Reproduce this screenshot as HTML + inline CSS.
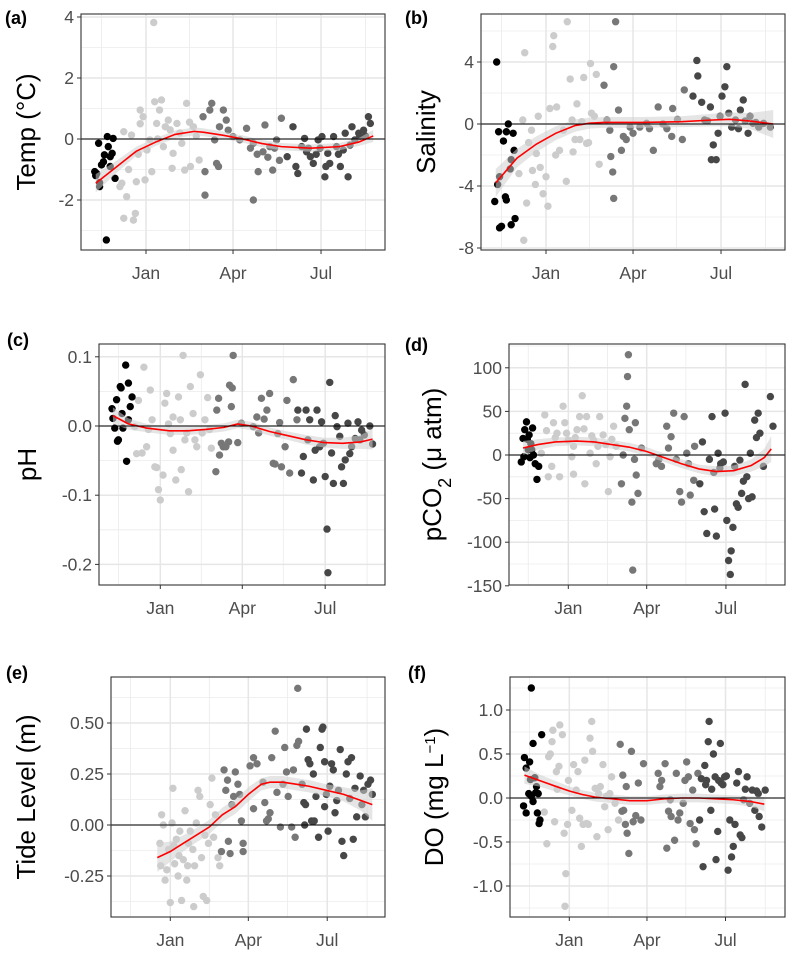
<!DOCTYPE html>
<html><head><meta charset="utf-8"><style>
html,body{margin:0;padding:0;background:#fff;}
svg text{font-family:"Liberation Sans",Arial,sans-serif;}
</style></head><body>
<svg id="chart" width="793" height="958" viewBox="0 0 793 958" xmlns="http://www.w3.org/2000/svg"></svg>
<script>
// ---- Data: [day since Jan 1, value] per colour group ----
const aBlack=[[-53,-1.07],[-49,-0.14],[-48,-1.43],[-51,-1.13],[-46,-0.85],[-43,-0.52],[-41,-3.31],[-40,0.08],[-39,-0.25],[-37,-0.9],[-35,-0.47],[-34,0.02],[-32,-1.29],[-37,-0.58],[-48,-1.56],[-52,-1.2],[-44,-0.75]];
const aLight=[[8,3.82],[-23,0.24],[-25,-1.45],[-23,-2.6],[-20,-1.89],[-13,-2.66],[-11,-2.44],[-15,0.13],[-10,-1.4],[-6,0.95],[-3,0.73],[-1,-1.34],[1,-0.36],[6,-1.07],[9,1.22],[11,0.51],[16,1.28],[18,-0.25],[20,0.4],[23,0.62],[27,-0.96],[28,-0.47],[32,0.51],[37,-0.14],[40,-1.02],[42,1.17],[46,-0.9],[49,0.4],[55,-0.69],[-6,0.5],[-27,-1.56],[14,0.95],[4,-0.03],[-18,-1.0],[-8,-0.5],[25,0.3],[35,0.2],[45,0.55],[52,0.1],[12,0.0]];
const aMid=[[59,0.73],[61,-1.07],[61,-1.84],[66,0.95],[68,1.17],[71,-0.03],[73,-0.8],[76,0.4],[80,0.95],[83,0.62],[85,0.29],[75,-0.9],[104,0.35],[111,-2.0],[116,-1.07],[123,0.46],[128,-0.25],[131,-1.02],[135,-0.03],[140,0.68],[111,-0.14],[121,-0.42],[90,0.08],[97,-0.03],[108,-0.3],[115,-0.5],[126,-0.6],[133,-0.3],[138,-0.7]];
const aDark=[[146,-0.58],[152,0.4],[157,-1.13],[161,-0.25],[164,0.02],[170,-0.58],[173,-0.8],[178,-0.03],[182,0.08],[185,-1.24],[190,-0.8],[194,0.08],[197,-0.25],[201,-0.9],[206,0.19],[209,-1.24],[213,0.4],[216,-0.03],[220,0.19],[225,0.29],[230,0.73],[232,0.51],[166,-0.42],[188,-0.47],[204,-0.36],[221,0.08],[155,-0.9],[168,-0.3],[176,-0.5],[180,-0.3],[186,-0.9],[199,-0.5],[211,-0.2],[227,0.1]];
const aFitDay=[-52,-30,-10,10,30,50,60,80,100,120,140,170,200,220,235];
const aFitVal=[-1.45,-0.9,-0.4,-0.1,0.15,0.25,0.22,0.12,0.0,-0.15,-0.25,-0.3,-0.25,-0.1,0.1];
const aFitSe=[0.3,0.2,0.15,0.13,0.13,0.13,0.13,0.12,0.12,0.12,0.12,0.12,0.12,0.13,0.2];

const bBlack=[[-51,4.0],[-49,-0.5],[-53,-5.0],[-50,-3.9],[-48,-6.7],[-44,-1.1],[-46,-6.6],[-41,-4.9],[-41,-0.5],[-39,0],[-37,-2.9],[-36,-2.3],[-34,-0.6],[-32,-6.1],[-36,-6.5],[-33,-1.7],[-48,-3.4],[-42,-4.7]];
const bLight=[[-23,-7.5],[-22,4.6],[-24,0.26],[-28,-3.2],[-20,-5.1],[-18,-1.2],[-15,-0.4],[-11,-3.9],[-8,0.5],[-6,-2.8],[-3,-4.5],[2,-5.3],[4,1.0],[7,5.0],[8,5.7],[11,1.1],[14,-1.7],[21,-3.7],[22,6.6],[25,2.9],[27,0.26],[28,-1.8],[32,1.3],[35,-1.0],[39,3.0],[42,-1.25],[46,3.9],[47,0.7],[52,3.2],[55,-2.6],[18,-0.4],[-10,-1.9],[37,0.15],[-14,-3.0],[0,-3.4],[10,-2.0],[30,-1.0],[44,-1.2],[50,0.5]];
const bMid=[[60,2.5],[63,0.26],[67,-2.1],[69,-3.1],[70,3.7],[70,-4.8],[72,6.6],[75,0.9],[78,-1.7],[83,-1.0],[87,-0.2],[97,-0.2],[111,-1.7],[116,1.1],[121,0],[130,-0.8],[131,1.0],[141,-1.0],[143,2.2],[90,-0.6],[104,0.04],[66,-0.4],[80,-0.8],[107,-0.3],[125,-0.3],[136,0.3]];
const bDark=[[152,1.8],[156,4.1],[157,3.1],[161,1.4],[164,0.26],[170,1.1],[173,-1.35],[171,-2.3],[176,-2.3],[178,-0.6],[182,1.8],[185,2.4],[187,3.7],[189,0.7],[192,-0.2],[196,0.26],[201,0.9],[204,1.55],[209,-0.6],[214,0.04],[220,-0.2],[225,0.04],[232,-0.2],[180,0.5],[211,0.5],[167,0.2],[199,-0.3],[206,0.2],[217,0.1]];
const bFitDay=[-52,-30,-10,10,30,45,60,100,140,170,190,210,235];
const bFitVal=[-3.8,-2.2,-1.3,-0.6,-0.1,0.05,0.1,0.1,0.15,0.25,0.3,0.2,0.0];
const bFitSe=[0.9,0.6,0.5,0.45,0.4,0.35,0.35,0.35,0.35,0.4,0.45,0.5,0.9];

const cBlack=[[-53,0.025],[-52,0.011],[-50,-0.003],[-48,0.038],[-46,-0.02],[-44,0.057],[-42,0.018],[-41,-0.003],[-38,0.088],[-37,-0.051],[-35,0.062],[-33,0.028],[-31,0.042],[-35,0.009],[-43,0.055],[-47,-0.022]];
const cLight=[[-28,-0.001],[-24,0.037],[-20,-0.039],[-18,0.085],[-15,-0.03],[-11,0.052],[-9,0.009],[-6,-0.059],[-2,-0.092],[0,-0.107],[3,-0.071],[5,0.033],[7,0.047],[11,-0.011],[14,-0.035],[17,-0.078],[20,0.042],[22,0.009],[25,0.102],[27,-0.02],[31,-0.095],[33,0.057],[36,0.018],[40,-0.03],[44,0.074],[49,0.009],[52,0.041],[56,-0.032],[23,-0.063],[14,0.013],[-26,-0.04],[-13,-0.005],[-4,-0.06],[9,0.003],[29,-0.01],[38,-0.02],[46,-0.01],[54,-0.005]];
const cMid=[[61,-0.066],[62,0.023],[64,0.04],[65,-0.042],[69,-0.03],[75,-0.023],[76,0.059],[80,0.102],[78,0.028],[85,-0.024],[89,0.004],[102,-0.001],[106,0.013],[111,0.04],[117,0.023],[120,0.047],[124,-0.054],[129,-0.011],[133,-0.059],[137,-0.03],[139,0.037],[142,-0.068],[146,0.067],[150,0.009],[67,-0.025],[72,-0.03],[79,0.055],[108,-0.01],[114,0.01],[126,-0.055],[131,0.005]];
const cDark=[[151,0.023],[155,-0.068],[157,-0.044],[160,0.023],[164,0.009],[168,-0.078],[172,0.023],[175,-0.03],[177,0.006],[181,-0.073],[183,-0.149],[184,-0.212],[186,0.063],[188,-0.039],[190,-0.083],[194,-0.001],[197,-0.015],[199,-0.059],[203,-0.049],[206,0.004],[210,-0.03],[214,-0.018],[217,0.006],[221,-0.006],[224,-0.013],[230,0],[233,-0.026],[201,-0.083],[162,-0.02],[170,-0.035],[179,-0.025],[192,0.015],[208,-0.04],[219,-0.02]];
const cFitDay=[-52,-35,-15,10,30,50,70,85,100,120,140,160,180,200,220,233];
const cFitVal=[0.015,0.003,-0.003,-0.007,-0.007,-0.005,-0.002,0.003,0.0,-0.008,-0.014,-0.02,-0.024,-0.025,-0.023,-0.019];
const cFitSe=[0.012,0.008,0.006,0.006,0.006,0.006,0.006,0.006,0.006,0.006,0.006,0.007,0.007,0.008,0.01,0.015];

const dBlack=[[-54,-8],[-52,19],[-50,29],[-48,38],[-46,6],[-45,23],[-43,13],[-41,31],[-40,0],[-38,-10],[-36,-28],[-34,-13],[-42,6],[-51,-2],[-47,18],[-44,-3]];
const dLight=[[-31,2],[-27,46],[-23,-25],[-19,-13],[-17,37],[-13,25],[-10,-25],[-6,56],[-4,37],[0,17],[4,-2],[6,-22],[10,29],[13,44],[16,68],[19,-33],[21,44],[25,2],[29,17],[32,-10],[36,44],[40,23],[46,-42],[48,-2],[52,33],[55,10],[6,10],[-25,28],[-15,20],[-2,25],[8,20],[18,30],[27,22],[34,10],[43,12],[50,18]];
const dMid=[[61,-33],[65,42],[67,56],[69,115],[68,90],[70,29],[73,-54],[74,-132],[77,37],[78,-23],[80,-44],[84,8],[101,-10],[107,-13],[113,33],[118,21],[121,48],[128,-42],[130,-54],[133,44],[136,2],[140,-46],[144,-29],[145,10],[63,0],[76,-5],[104,-5],[115,8],[124,-5],[138,-10]];
const dDark=[[151,-33],[154,15],[156,-65],[159,-90],[165,44],[168,-62],[170,-93],[172,2],[175,-10],[180,48],[182,-75],[184,-121],[186,-137],[187,-110],[191,-13],[193,-56],[199,-44],[203,81],[205,-25],[209,2],[211,-48],[214,40],[218,48],[220,25],[224,-13],[232,67],[235,33],[189,-83],[197,-6],[162,-5],[167,-20],[174,-15],[178,-8],[195,-60],[201,-30],[207,-50],[216,20]];
const dFitDay=[-52,-35,-15,10,30,50,70,90,110,130,150,170,190,210,225,233];
const dFitVal=[8,12,15,16,15,12,9,4,-3,-10,-16,-19,-18,-12,-3,7];
const dFitSe=[8,6,5,5,5,5,5,5,5,5,5,6,6,7,10,15];

const eLight=[[-10,0.05],[-12,-0.09],[-8,0],[-6,-0.27],[-2,-0.12],[0,-0.38],[2,0.01],[3,0.18],[5,-0.19],[7,-0.07],[9,-0.25],[11,-0.03],[13,-0.37],[15,-0.17],[17,0.07],[19,-0.27],[21,-0.09],[23,-0.03],[27,-0.4],[28,-0.2],[30,0.01],[32,0.17],[34,0.14],[36,-0.16],[38,-0.35],[42,-0.37],[44,-0.09],[46,0.1],[48,0.23],[50,-0.06],[55,-0.16],[57,-0.2],[52,0.05],[-11,-0.2],[-4,-0.22],[4,-0.1],[10,-0.15],[20,-0.2],[26,-0.12],[40,-0.05]];
const eMid=[[59,-0.13],[62,0.27],[64,0.17],[67,-0.08],[69,-0.14],[73,0.14],[75,0.26],[78,0.2],[80,0.15],[82,0.02],[84,-0.13],[84,-0.09],[92,0.29],[96,0.33],[107,0.21],[109,0.11],[111,0.02],[115,0.06],[117,0.33],[121,0.46],[123,0.16],[127,-0.01],[130,0.2],[132,0.38],[136,0.14],[140,-0.01],[142,0.27],[144,-0.06],[147,0.67],[148,0.41],[96,0.08],[66,0.22],[71,0.1],[100,0.3],[113,0.03],[134,0.26],[146,0.39]];
const eDark=[[152,0.2],[154,0.11],[155,0],[157,0.47],[159,0.32],[163,0.02],[165,0.25],[168,0.14],[171,-0.06],[173,0.38],[175,0.47],[176,0.48],[178,0.31],[182,-0.03],[184,0.19],[188,0.27],[190,0.06],[194,0.17],[196,0.37],[198,-0.08],[200,-0.15],[203,0.25],[205,0.31],[207,0.13],[211,-0.07],[215,0.04],[219,0.24],[223,0.17],[225,0.04],[228,0.2],[231,0.22],[233,0.15],[178,0.09],[209,0.33],[156,0.1],[161,0.3],[166,0.02],[180,0.15],[186,0.3],[192,0.12],[213,0.18],[221,0.1]];
const eFitDay=[-15,0,15,30,45,60,75,90,105,115,130,145,160,180,200,220,233];
const eFitVal=[-0.16,-0.13,-0.09,-0.05,-0.01,0.05,0.09,0.15,0.2,0.21,0.21,0.2,0.19,0.17,0.15,0.12,0.1];
const eFitSe=[0.07,0.05,0.04,0.035,0.035,0.035,0.035,0.035,0.03,0.03,0.03,0.03,0.03,0.03,0.035,0.05,0.08];

const fBlack=[[-53,-0.09],[-52,0.46],[-50,-0.17],[-50,0.34],[-47,0.05],[-46,0.41],[-45,0.21],[-44,1.25],[-42,0.62],[-42,-0.04],[-40,0.23],[-38,0.13],[-37,-0.17],[-36,0.05],[-35,-0.29],[-32,0.72],[-44,0.02],[-39,0.06],[-34,-0.25]];
const fLight=[[-29,-0.16],[-26,-0.52],[-24,0.47],[-20,0.64],[-19,0.77],[-17,-0.27],[-15,0.3],[-12,0.36],[-11,0.83],[-8,0.72],[-6,-0.4],[-4,-0.86],[-5,-1.23],[-1,0.2],[3,-0.14],[5,0.38],[8,0.09],[12,-0.23],[14,-0.55],[18,0.43],[20,-0.29],[24,0.68],[26,0.87],[27,0.53],[30,0.11],[32,-0.44],[36,0.13],[39,0.38],[43,0.02],[45,-0.36],[49,0.24],[53,-0.06],[57,-0.25],[-22,0.5],[-14,0.1],[-2,-0.3],[10,0.3],[16,-0.3],[22,-0.3],[34,0.05],[41,-0.1],[47,0.05]];
const fMid=[[59,0.61],[62,0.26],[63,-0.14],[66,0.13],[67,-0.4],[69,-0.63],[72,0.53],[74,-0.27],[80,0.17],[83,-0.25],[86,0.39],[103,0.28],[105,0.13],[111,0.39],[113,-0.57],[117,-0.02],[118,-0.21],[122,-0.48],[124,0.28],[128,-0.17],[132,-0.06],[136,0.41],[138,0.24],[140,-0.29],[143,0.09],[145,-0.36],[147,-0.52],[149,0.28],[61,-0.15],[65,-0.3],[77,-0.2],[107,0.2],[115,-0.15],[126,-0.25],[134,0.2]];
const fDark=[[151,-0.25],[153,0.22],[155,-0.78],[157,0.37],[159,0.2],[161,0.64],[162,0.87],[164,-0.14],[167,0.5],[169,0.24],[170,-0.7],[172,-0.38],[175,0.62],[176,0.17],[180,0.24],[184,-0.82],[186,-0.25],[188,-0.67],[190,-0.55],[194,0.17],[196,0.3],[198,-0.42],[202,-0.02],[206,0.24],[209,-0.06],[212,0.09],[215,-0.14],[219,0.05],[220,-0.21],[223,-0.33],[227,0.09],[158,0.15],[165,0.1],[173,0.2],[178,0.15],[182,0.25],[192,-0.3],[200,-0.45],[204,0.1],[217,0.08]];
const fFitDay=[-52,-35,-15,0,15,30,50,70,90,110,130,150,170,190,210,226];
const fFitVal=[0.26,0.2,0.13,0.08,0.04,0.01,-0.01,-0.03,-0.03,-0.01,0.0,0.0,-0.01,-0.02,-0.04,-0.07];
const fFitSe=[0.1,0.07,0.06,0.05,0.05,0.05,0.05,0.05,0.05,0.05,0.05,0.05,0.05,0.05,0.06,0.08];

const monthTickDays=[0,90,181];
const monthTickLabels=["Jan","Apr","Jul"];
const monthMajorDays=[-92,0,90,181,273];
const monthMinorDays=[-46,45,135,227];

const NS="http://www.w3.org/2000/svg";
const svg=document.getElementById('chart');
function mk(tag,attrs,parent){const e=document.createElementNS(NS,tag);for(const k in attrs)e.setAttribute(k,attrs[k]);(parent||svg).appendChild(e);return e;}

function drawPanel(cfg){
  const g=mk('g',{});
  
  
  const xs=d=>cfg.xJan+d*cfg.pxDay;
  const ys=v=>cfg.yZero-v*cfg.pxUnit;
  const clip='clip-'+cfg.id;
  const cp=mk('clipPath',{id:clip},g);
  mk('rect',{x:cfg.x0,y:cfg.y0,width:cfg.x1-cfg.x0,height:cfg.y1-cfg.y0},cp);
  const bg=mk('rect',{x:cfg.x0,y:cfg.y0,width:cfg.x1-cfg.x0,height:cfg.y1-cfg.y0,fill:'#fff'},g);
  
  
  const grid=mk('g',{'clip-path':'url(#'+clip+')'},g);
  
  
  cfg.yMinor.forEach(v=>mk('line',{x1:cfg.x0,x2:cfg.x1,y1:ys(v),y2:ys(v),stroke:'#ebebeb','stroke-width':0.8},grid));
  monthMinorDays.forEach(d=>mk('line',{x1:xs(d),x2:xs(d),y1:cfg.y0,y2:cfg.y1,stroke:'#ebebeb','stroke-width':0.8},grid));
  cfg.yTicks.forEach(v=>mk('line',{x1:cfg.x0,x2:cfg.x1,y1:ys(v),y2:ys(v),stroke:'#e6e6e6','stroke-width':1.5},grid));
  monthMajorDays.forEach(d=>mk('line',{x1:xs(d),x2:xs(d),y1:cfg.y0,y2:cfg.y1,stroke:'#e6e6e6','stroke-width':1.5},grid));
  const pts=mk('g',{'clip-path':'url(#'+clip+')'},g);
  
  
  const cols=['#000000','#cccccc','#777777','#474747'];
  const order=[1,2,3,0];
  order.forEach(gi=>{
    (cfg.groups[gi]||[]).forEach(p=>{
      const c=mk('circle',{cx:xs(p[0]),cy:ys(p[1]),r:3.7,fill:cols[gi]},pts);
      
      
    });
  });
  let up='',lo='',ln='';
  cfg.fitDay.forEach((d,i)=>{up+=(i?'L':'M')+xs(d)+' '+ys(cfg.fitVal[i]+cfg.fitSe[i]);ln+=(i?'L':'M')+xs(d)+' '+ys(cfg.fitVal[i]);});
  for(let i=cfg.fitDay.length-1;i>=0;i--)lo+='L'+xs(cfg.fitDay[i])+' '+ys(cfg.fitVal[i]-cfg.fitSe[i]);
  const rib=mk('path',{d:up+lo+'Z',fill:'#d0d0d0','fill-opacity':0.55,stroke:'none','clip-path':'url(#'+clip+')'},g);
  
  
  const fit=mk('path',{d:ln,fill:'none',stroke:'#ff0000','stroke-width':1.6,'clip-path':'url(#'+clip+')'},g);
  
  
  const zl=mk('line',{x1:cfg.x0,x2:cfg.x1,y1:ys(0),y2:ys(0),stroke:'#000','stroke-width':1},g);
  
  
  const bd=mk('rect',{x:cfg.x0,y:cfg.y0,width:cfg.x1-cfg.x0,height:cfg.y1-cfg.y0,fill:'none',stroke:'#333','stroke-width':1.1},g);
  
  
  cfg.yTicks.forEach((v,i)=>{
    mk('line',{x1:cfg.x0-4,x2:cfg.x0,y1:ys(v),y2:ys(v),stroke:'#333','stroke-width':1},g);
    const t=mk('text',{x:cfg.x0-7,y:ys(v)+6,'text-anchor':'end','font-size':17.5,fill:'#4d4d4d'},g);
    t.textContent=cfg.yLabels[i];
    
    
  });
  monthTickDays.forEach((d,i)=>{
    mk('line',{x1:xs(d),x2:xs(d),y1:cfg.y1,y2:cfg.y1+4,stroke:'#333','stroke-width':1},g);
    const t=mk('text',{x:xs(d),y:cfg.y1+29,'text-anchor':'middle','font-size':17.5,fill:'#4d4d4d'},g);
    t.textContent=monthTickLabels[i];
    
    
  });
  const mid=(cfg.y0+cfg.y1)/2;
  const tt=mk('text',{x:cfg.tx,y:mid,transform:'rotate(-90 '+cfg.tx+' '+mid+')','text-anchor':'middle','font-size':26,fill:'#000'},g);
  tt.innerHTML=cfg.title;
  
  
  const pl=mk('text',{x:cfg.lx,y:cfg.ly,'font-size':18,'font-weight':'bold',fill:'#000'},g);
  pl.textContent=cfg.label;
  
  
}

drawPanel({id:'a',name:'panel-a-temperature',x0:81,x1:385,y0:14,y1:250,xJan:146,pxDay:0.967,yZero:139,pxUnit:30.5,
  yTicks:[-2,0,2,4],yLabels:['-2','0','2','4'],yMinor:[-3,-1,1,3],groups:[aBlack,aLight,aMid,aDark],
  fitDay:aFitDay,fitVal:aFitVal,fitSe:aFitSe,title:'Temp (°C)',tx:35,label:'(a)',lx:5,ly:24});
drawPanel({id:'b',name:'panel-b-salinity',x0:481,x1:785,y0:14,y1:250,xJan:546,pxDay:0.967,yZero:124,pxUnit:15.5,
  yTicks:[-8,-4,0,4],yLabels:['-8','-4','0','4'],yMinor:[-6,-2,2,6],groups:[bBlack,bLight,bMid,bDark],
  fitDay:bFitDay,fitVal:bFitVal,fitSe:bFitSe,title:'Salinity',tx:435,label:'(b)',lx:405,ly:24});
drawPanel({id:'c',name:'panel-c-ph',x0:99,x1:385,y0:344,y1:585,xJan:160.3,pxDay:0.911,yZero:426,pxUnit:692,
  yTicks:[-0.2,-0.1,0,0.1],yLabels:['-0.2','-0.1','0.0','0.1'],yMinor:[-0.15,-0.05,0.05],groups:[cBlack,cLight,cMid,cDark],
  fitDay:cFitDay,fitVal:cFitVal,fitSe:cFitSe,title:'pH',tx:36,label:'(c)',lx:7,ly:346});
drawPanel({id:'d',name:'panel-d-pco2',x0:509,x1:785,y0:344,y1:585,xJan:568.3,pxDay:0.871,yZero:455,pxUnit:0.872,
  yTicks:[-150,-100,-50,0,50,100],yLabels:['-150','-100','-50','0','50','100'],yMinor:[-125,-75,-25,25,75,125],groups:[dBlack,dLight,dMid,dDark],
  fitDay:dFitDay,fitVal:dFitVal,fitSe:dFitSe,title:'pCO<tspan baseline-shift="sub" font-size="18">2</tspan> (μ atm)',tx:441,label:'(d)',lx:405,ly:351});
drawPanel({id:'e',name:'panel-e-tide-level',x0:111,x1:385,y0:677,y1:917,xJan:170.3,pxDay:0.867,yZero:825,pxUnit:204,
  yTicks:[-0.25,0,0.25,0.5],yLabels:['-0.25','0.00','0.25','0.50'],yMinor:[-0.375,-0.125,0.125,0.375,0.625],groups:[[],eLight,eMid,eDark],
  fitDay:eFitDay,fitVal:eFitVal,fitSe:eFitSe,title:'Tide Level (m)',tx:35,label:'(e)',lx:6,ly:679});
drawPanel({id:'f',name:'panel-f-dissolved-oxygen',x0:510,x1:785,y0:677,y1:917,xJan:569.3,pxDay:0.863,yZero:798,pxUnit:88,
  yTicks:[-1,-0.5,0,0.5,1],yLabels:['-1.0','-0.5','0.0','0.5','1.0'],yMinor:[-1.25,-0.75,-0.25,0.25,0.75,1.25],groups:[fBlack,fLight,fMid,fDark],
  fitDay:fFitDay,fitVal:fFitVal,fitSe:fFitSe,title:'DO (mg L<tspan baseline-shift="super" font-size="15">−1</tspan>)',tx:443,label:'(f)',lx:408,ly:679});
</script>
</body></html>
